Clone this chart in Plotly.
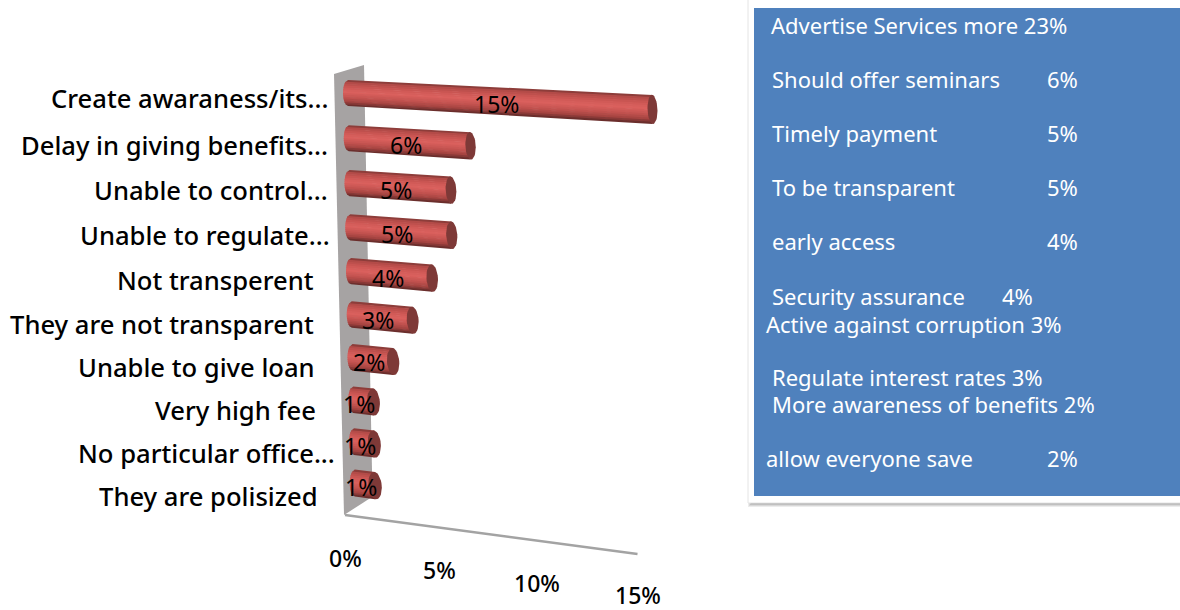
import math
import plotly.graph_objects as go

# Survey responses, top row first
categories = ["Create awaraness/its...", "Delay in giving benefits...", "Unable to control...",
              "Unable to regulate...", "Not transperent", "They are not transparent",
              "Unable to give loan", "Very high fee", "No particular office...", "They are polisized"]
values = [15, 6, 5, 5, 4, 3, 2, 1, 1, 1]
value_ticks = [0, 5, 10, 15]

# Suggestions listed in the side panel
panel_items = ["Advertise Services more", "Should offer seminars", "Timely payment", "To be transparent",
               "early access", "Security assurance", "Active against corruption",
               "Regulate interest rates", "More awareness of benefits", "allow everyone save"]
panel_values = [23, 6, 5, 5, 4, 4, 3, 3, 2, 2]

# Layout of the panel text: left edge, centre line, column of the figure (None = right after the text)
panel_x = [768.5, 769.5, 769.5, 769.5, 769.5, 769.5, 763.5, 769.5, 769.5, 763.5]
panel_y = [25, 79, 133, 187, 241, 296, 324, 377, 404, 458]
panel_val_x = [None, 1045, 1045, 1045, 1045, 1000, None, None, None, 1045]
label_right = [330, 330, 330, 332, 316, 316, 317, 318, 337, 320]
label_y = [98, 145, 190, 235, 280, 324, 367, 410, 453, 496]

FONT = "Noto Sans"
BAR_STOPS = [(-1.0, (118, 52, 50)), (-0.82, (176, 74, 71)), (-0.45, (205, 87, 84)), (-0.1, (219, 97, 94)),
             (0.3, (198, 84, 81)), (0.65, (165, 68, 65)), (0.88, (118, 50, 48)), (1.0, (92, 40, 38))]
STRIPS = 14


# Oblique projection of (value, row) onto the page
def row_origin(row):
    return 344 + 0.75 * row, 93 + 45.5 * row - 0.24 * row * row


def bar_point(value, row, t):
    """Point on the cylinder surface; t runs from -1 (top) to 1 (bottom) across its width."""
    x0, y0 = row_origin(row)
    half = (13 + 0.05 * row) + 0.1 * value
    return x0 + 4 + 20.3 * value, y0 + (0.053 + 0.008 * row) * 20.6 * value + t * half


def floor_point(value):
    return 345 + value * (18.6 + 0.06 * value), 515 + 2.6 * value


def shade(t):
    for (a, ca), (b, cb) in zip(BAR_STOPS, BAR_STOPS[1:]):
        if a <= t <= b:
            k = (t - a) / (b - a)
            return "rgb(%d,%d,%d)" % tuple(round(p + (q - p) * k) for p, q in zip(ca, cb))
    return "rgb(92,40,38)"


def polygon(xs, ys, color):
    return go.Scatter(x=xs, y=ys, mode="lines", fill="toself", fillcolor=color,
                      line=dict(color=color, width=0), hoverinfo="skip", showlegend=False)


fig = go.Figure()

# Back wall and floor edge
fig.add_trace(polygon([334, 364, 372, 372, 344], [74, 65, 470, 497, 515], "#a6a3a3"))
fx, fy = zip(*[floor_point(v) for v in (0, 15)])
fig.add_trace(go.Scatter(x=fx, y=fy, mode="lines", line=dict(color="#a3a3a3", width=2.5),
                         hoverinfo="skip", showlegend=False))

# Cylinders: stacked strips give the round shading, an ellipse closes the far end
for row, value in enumerate(values):
    for s in range(STRIPS):
        t0 = -1 + 2 * s / STRIPS
        t1 = min(1, -1 + 2 * (s + 1) / STRIPS + 0.05)  # slight overlap hides seams between strips
        x00, y00 = bar_point(0, row, t0)
        x01, y01 = bar_point(0, row, t1)
        xv0, yv0 = bar_point(value, row, t0)
        xv1, yv1 = bar_point(value, row, t1)
        bulge0 = 5 * math.sqrt(max(0, 1 - t0 * t0))
        bulge1 = 5 * math.sqrt(max(0, 1 - t1 * t1))
        fig.add_trace(polygon([x00 - bulge0, xv0, xv1, x01 - bulge1],
                              [y00, yv0, yv1, y01], shade(-1 + 2 * (s + 0.5) / STRIPS)))
    cx, cy = bar_point(value, row, 0)
    _, top = bar_point(value, row, -1)
    ry = cy - top
    rx = 5 + 0.2 * row
    angles = [2 * math.pi * k / 36 for k in range(37)]
    fig.add_trace(polygon([cx + rx * math.cos(a) for a in angles],
                          [cy + ry * math.sin(a) + 0.3 * rx * math.cos(a) for a in angles], "#7e3937"))

annotations = []


def text(x, y, label, size, color, anchor="center", weight="normal"):
    annotations.append(dict(x=x, y=y, xref="x", yref="y", text=label, showarrow=False, xanchor=anchor,
                            yanchor="middle", font=dict(family=FONT, size=size, color=color, weight=weight)))


# Category labels and value labels
for row, (name, value) in enumerate(zip(categories, values)):
    text(label_right[row], label_y[row], name, 25.6, "#000000", "right", 500)
    lx, ly = bar_point(value / 2, row, 0)
    text(lx - 4, ly + 3, f"{value}%", 23, "#000000")

# Value axis labels run along the slanted floor
for v in value_ticks:
    x, y = floor_point(v)
    text(x, y + 43 - 0.13 * v, f"{v}%", 23, "#000000", weight=500)

# Panel text
for name, value, x, y, vx in zip(panel_items, panel_values, panel_x, panel_y, panel_val_x):
    if vx is None:
        text(x, y, f"{name} {value}%", 22, "#ffffff", "left")
    else:
        text(x, y, name, 22, "#ffffff", "left")
        text(vx, y, f"{value}%", 22, "#ffffff", "left")

# Soft drop shadow under the panel, built from fading rectangles
shadow = [dict(type="rect", xref="x", yref="y", x0=748 + i, x1=1190, y0=0, y1=507 - i, fillcolor=c,
               line_width=0, layer="below")
          for i, c in enumerate(["#ececec", "#d8d8d8", "#c0c0c0", "#ababab"])]

fig.update_layout(
    width=1180, height=610, margin=dict(l=0, r=0, t=0, b=0),
    paper_bgcolor="#ffffff", plot_bgcolor="#ffffff", showlegend=False,
    xaxis=dict(range=[0, 1180], visible=False, fixedrange=True),
    yaxis=dict(range=[610, 0], visible=False, fixedrange=True),
    annotations=annotations,
    shapes=shadow + [
        dict(type="rect", xref="x", yref="y", x0=748, x1=1190, y0=-2, y1=503, fillcolor="#ffffff",
             line=dict(color="#e4e4e4", width=1), layer="below"),
        dict(type="rect", xref="x", yref="y", x0=754, x1=1190, y0=8, y1=496, fillcolor="#4f81bd",
             line_width=0, layer="below"),
    ],
)

fig.write_html("out.html")
